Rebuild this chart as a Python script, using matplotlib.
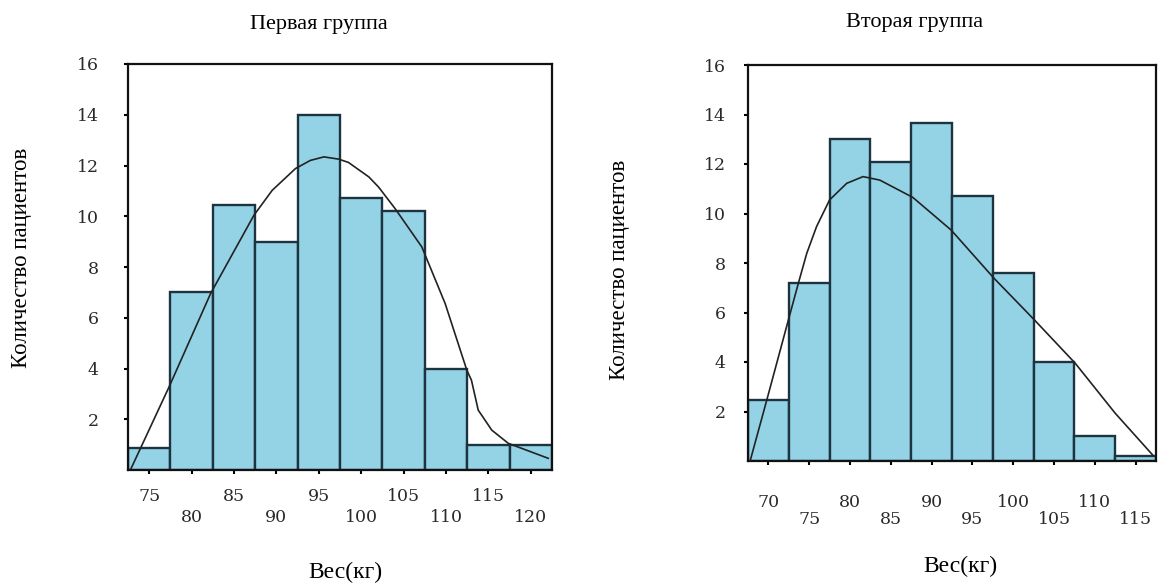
import matplotlib
matplotlib.use("Agg")
import matplotlib.pyplot as plt

# ---------------- data ----------------
left_centers = [75, 80, 85, 90, 95, 100, 105, 110, 115, 120]
left_counts = [0.85, 7.0, 10.45, 9.0, 14.0, 10.7, 10.2, 4.0, 1.0, 1.0]
left_curve_x = [72.85, 77.35, 82.25, 87.35, 89.5, 92.25, 94.0, 95.6, 97.35,
                98.5, 100.9, 102.05, 104.0, 107.15, 109.9, 112.45, 113.0,
                113.8, 115.4, 117.35, 122.06]
left_curve_y = [0.05, 3.28, 6.96, 10.04, 11.02, 11.88, 12.2, 12.34, 12.25,
                12.12, 11.55, 11.15, 10.3, 8.79, 6.56, 3.94, 3.54, 2.36,
                1.57, 1.05, 0.46]
left_ticks_upper = [75, 85, 95, 105, 115]
left_ticks_lower = [80, 90, 100, 110, 120]

right_centers = [70, 75, 80, 85, 90, 95, 100, 105, 110, 115]
right_counts = [2.45, 7.2, 13.0, 12.1, 13.65, 10.7, 7.6, 4.0, 1.0, 0.2]
right_curve_x = [67.76, 69.8, 72.45, 73.67, 74.7, 75.9, 77.5, 79.6, 81.6,
                 83.65, 87.7, 92.4, 97.6, 102.6, 107.6, 112.5, 117.1]
right_curve_y = [0.0, 2.46, 5.7, 7.18, 8.39, 9.47, 10.55, 11.22, 11.49,
                 11.35, 10.65, 9.33, 7.4, 5.7, 3.95, 1.93, 0.24]
right_ticks_upper = [70, 80, 90, 100, 110]
right_ticks_lower = [75, 85, 95, 105, 115]

y_ticks = [2, 4, 6, 8, 10, 12, 14, 16]
bin_width = 5

titles = ["Первая группа", "Вторая группа"]
ylabel = "Количество пациентов"
xlabel = "Вес(кг)"

# ---------------- style ----------------
W, H = 1169, 588
fig = plt.figure(figsize=(W / 100, H / 100), dpi=100)
fig.patch.set_facecolor("white")

bar_color = "#93d3e5"
edge_color = "#1d3440"
text_font = ["Liberation Serif", "DejaVu Serif"]
tick_font = ["DejaVu Serif"]
tick_size = 12.5
tick_color = "#2a2a2a"


def px_box(l, t, r, b):
    return [l / W, 1 - b / H, (r - l) / W, (b - t) / H]


def draw_panel(rect, centers, counts, cx, cy, upper, lower, pads, ypad):
    ax = fig.add_axes(rect)
    ax.bar(centers, counts, width=bin_width, color=bar_color,
           edgecolor=edge_color, linewidth=1.7, zorder=2)
    ax.plot(cx, cy, color="#222222", linewidth=1.2, zorder=3,
            solid_joinstyle="round")
    ax.set_xlim(centers[0] - bin_width / 2, centers[-1] + bin_width / 2)
    ax.set_ylim(0, 16)
    ax.set_yticks(y_ticks)
    ax.set_yticklabels([str(v) for v in y_ticks], family=tick_font,
                       fontsize=tick_size, color=tick_color)
    ax.set_xticks(upper)
    ax.set_xticklabels([str(v) for v in upper], family=tick_font,
                       fontsize=tick_size, color=tick_color)
    ax.set_xticks(lower, minor=True)
    ax.set_xticklabels([str(v) for v in lower], minor=True, family=tick_font,
                       fontsize=tick_size, color=tick_color)
    ax.tick_params(axis="x", which="major", length=3, width=1.5,
                   pad=pads[0], direction="out")
    ax.tick_params(axis="x", which="minor", length=3, width=1.5,
                   pad=pads[1], direction="out")
    ax.tick_params(axis="y", length=3, width=1.5, pad=ypad, direction="out")
    for s in ax.spines.values():
        s.set_linewidth(1.6)
        s.set_color("#111111")
    return ax


ax1 = draw_panel(px_box(128, 64, 552, 470), left_centers, left_counts,
                 left_curve_x, left_curve_y, left_ticks_upper,
                 left_ticks_lower, (10, 25), 18)
ax2 = draw_panel(px_box(748, 65, 1156, 461), right_centers, right_counts,
                 right_curve_x, right_curve_y, right_ticks_upper,
                 right_ticks_lower, (21, 33), 13)

# titles and labels
fig.text(319 / W, 1 - 24 / H, titles[0], ha="center", va="center",
         family=text_font, fontsize=16)
fig.text(915 / W, 1 - 22 / H, titles[1], ha="center", va="center",
         family=text_font, fontsize=16)
fig.text(22 / W, 1 - 258 / H, ylabel, ha="center", va="center",
         rotation=90, family=text_font, fontsize=16.5)
fig.text(620 / W, 1 - 270 / H, ylabel, ha="center", va="center",
         rotation=90, family=text_font, fontsize=16.5)
fig.text(345 / W, 1 - 572 / H, xlabel, ha="center", va="center",
         family=text_font, fontsize=17)
fig.text(960 / W, 1 - 566 / H, xlabel, ha="center", va="center",
         family=text_font, fontsize=17)

fig.savefig("out.png", dpi=100, facecolor="white")
